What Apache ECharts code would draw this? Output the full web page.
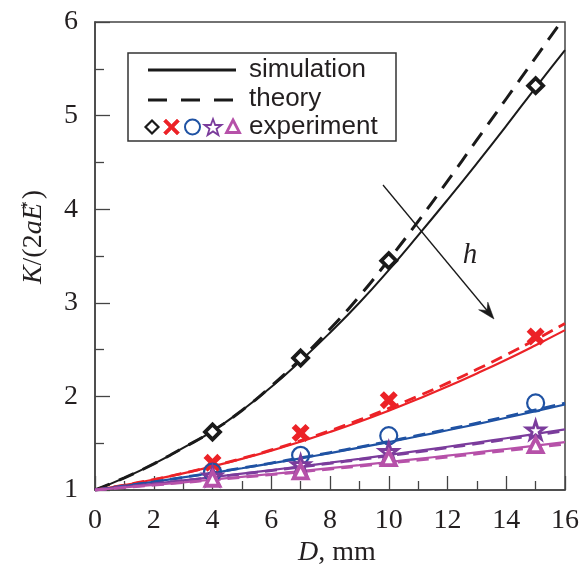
<!DOCTYPE html>
<html>
<head>
<meta charset="utf-8">
<script src="https://cdn.jsdelivr.net/npm/echarts@6/dist/echarts.min.js"></script>
<style>
html,body{margin:0;padding:0;background:#fff;}
#chart{width:582px;height:569px;}
</style>
</head>
<body>
<div id="chart"></div>
<script>
// ---- data ----
var D_CURVE = [0,1,2,3,4,5,6,7,8,9,10,11,12,13,14,15,16];
var blackSim    = [1.00,1.13,1.28,1.45,1.63,1.85,2.10,2.38,2.68,3.00,3.35,3.72,4.10,4.49,4.89,5.30,5.70];
var blackTheory = [1.00,1.13,1.28,1.45,1.63,1.85,2.11,2.40,2.72,3.07,3.46,3.87,4.30,4.74,5.18,5.62,6.06];
var redSim      = [1.000,1.052,1.112,1.178,1.252,1.333,1.421,1.517,1.620,1.730,1.848,1.973,2.105,2.245,2.392,2.547,2.708];
var redTheory   = [1.000,1.052,1.112,1.179,1.254,1.337,1.428,1.527,1.634,1.749,1.872,2.003,2.142,2.289,2.444,2.607,2.778];
var blueSim     = [1.000,1.043,1.088,1.134,1.182,1.232,1.284,1.338,1.394,1.452,1.512,1.574,1.638,1.704,1.772,1.842,1.914];
var blueTheory  = [1.000,1.043,1.088,1.135,1.184,1.235,1.288,1.343,1.400,1.459,1.520,1.583,1.648,1.715,1.784,1.855,1.928];
var purpleSim   = [1.000,1.033,1.067,1.102,1.138,1.175,1.213,1.252,1.292,1.333,1.375,1.418,1.462,1.507,1.553,1.600,1.648];
var purpleTheory= [1.000,1.033,1.066,1.100,1.135,1.171,1.208,1.246,1.285,1.325,1.366,1.408,1.451,1.495,1.540,1.586,1.633];
var pinkSim     = [1.000,1.027,1.054,1.082,1.111,1.141,1.171,1.202,1.234,1.266,1.299,1.333,1.367,1.402,1.438,1.474,1.511];
var pinkTheory  = [1.000,1.026,1.052,1.079,1.107,1.135,1.164,1.194,1.224,1.255,1.287,1.319,1.352,1.386,1.420,1.455,1.490];

var D_EXP = [4,7,10,15];
var expDiamond  = [1.62,2.41,3.45,5.32];
var expCross    = [1.29,1.61,1.96,2.64];
var expCircle   = [1.19,1.37,1.58,1.93];
var expStar     = [1.15,1.27,1.41,1.64];
var expTriangle = [1.12,1.20,1.34,1.48];

var X_TICKS = [0,2,4,6,8,10,12,14,16];
var Y_TICKS = [1,2,3,4,5,6];

// ---- styles ----
var C_BLACK = '#1a1a1a', C_RED = '#ec2227', C_BLUE = '#1f52a3', C_PURPLE = '#7b3c9c', C_PINK = '#b651a9';
var SERIF = 'Liberation Serif';
var SANS = 'Liberation Sans';
var TXT = '#231f20';

function pairs(xs, ys){ return xs.map(function(x,i){ return [x, ys[i]]; }); }

function lineSeries(data, color, width, dashed, dash){
  return {
    type:'line', data: pairs(D_CURVE, data), smooth: 0.5, symbol:'none', clip:true,
    lineStyle:{color:color, width:width, type: dashed ? dash : 'solid', cap:'butt'},
    silent:true, z:2
  };
}

var X_PATH = 'path://M0,2.3 L2.3,0 L5,2.7 L7.7,0 L10,2.3 L7.3,5 L10,7.7 L7.7,10 L5,7.3 L2.3,10 L0,7.7 L2.7,5 Z';
var STAR_PATH = 'path://M50,0 L61.8,35.3 L99,35.3 L69,57.1 L80.4,92.7 L50,70.8 L19.6,92.7 L31,57.1 L1,35.3 L38.2,35.3 Z';

function scatter(ys, symbol, size, fill, border, bw){
  return {
    type:'scatter', data: pairs(D_EXP, ys), symbol:symbol, symbolSize:size,
    itemStyle:{color:fill, borderColor:border, borderWidth:bw, opacity:1},
    silent:true, z:5
  };
}

var series = [
  lineSeries(blackSim, C_BLACK, 2, false),
  lineSeries(blackTheory, C_BLACK, 3, true, [16,10]),
  lineSeries(redSim, C_RED, 2.2, false),
  lineSeries(redTheory, C_RED, 2.8, true, [12,7]),
  lineSeries(blueSim, C_BLUE, 2.2, false),
  lineSeries(blueTheory, C_BLUE, 2.8, true, [12,7]),
  lineSeries(purpleSim, C_PURPLE, 2.2, false),
  lineSeries(purpleTheory, C_PURPLE, 2.8, true, [12,7]),
  lineSeries(pinkSim, C_PINK, 2.2, false),
  lineSeries(pinkTheory, C_PINK, 2.8, true, [12,7]),
  scatter(expDiamond, 'diamond', 15, '#fff', C_BLACK, 3.8),
  scatter(expCross, X_PATH, 18, C_RED, C_RED, 0),
  scatter(expCircle, 'circle', 17, 'rgba(0,0,0,0)', C_BLUE, 2.2),
  scatter(expStar, STAR_PATH, 18, '#fff', C_PURPLE, 2.8),
  scatter(expTriangle, 'triangle', 14, '#fff', C_PINK, 3.8)
];

function poly(points, fill, stroke, lw){
  return {type:'polygon', shape:{points:points}, style:{fill:fill, stroke:stroke, lineWidth:lw||0}, z:20};
}
var graphic = [
  {type:'rect', shape:{x:128, y:53, width:268, height:88}, style:{fill:'#fff', stroke:'#333', lineWidth:1.5}, z:15},
  {type:'line', shape:{x1:148, y1:70, x2:236, y2:70}, style:{stroke:C_BLACK, lineWidth:3}, z:20},
  {type:'line', shape:{x1:148, y1:100, x2:236, y2:100}, style:{stroke:C_BLACK, lineWidth:3, lineDash:[19,14]}, z:20},
  {type:'text', x:249, y:70, style:{text:'simulation', font:'26px "'+SANS+'"', fill:TXT, align:'left', verticalAlign:'middle'}, z:20},
  {type:'text', x:249, y:99, style:{text:'theory', font:'26px "'+SANS+'"', fill:TXT, align:'left', verticalAlign:'middle'}, z:20},
  {type:'text', x:249, y:127, style:{text:'experiment', font:'26px "'+SANS+'"', fill:TXT, align:'left', verticalAlign:'middle'}, z:20},
  // legend symbols
  poly([[152,120.5],[158.5,127],[152,133.5],[145.5,127]], '#fff', C_BLACK, 2.2),
  poly([[163.5,121.5],[166,119],[171.5,124.5],[177,119],[179.5,121.5],[174,127],[179.5,132.5],[177,135],[171.5,129.5],[166,135],[163.5,132.5],[169,127]], C_RED, C_RED, 0.5),
  {type:'circle', shape:{cx:192.5, cy:127, r:7.5}, style:{fill:'none', stroke:C_BLUE, lineWidth:2}, z:20},
  poly([[213,119],[215.2,125],[221.5,125],[216.5,128.8],[218.4,135],[213,131.4],[207.6,135],[209.5,128.8],[204.5,125],[210.8,125]], '#fff', C_PURPLE, 1.8),
  poly([[233,120],[239.5,132.5],[226.5,132.5]], '#fff', C_PINK, 2.8),
  // arrow
  {type:'line', shape:{x1:383, y1:185, x2:487.5, y2:311}, style:{stroke:C_BLACK, lineWidth:1.3}, z:20},
  poly([[494,319],[478.6,309.7],[487,310.5],[487.8,302.1]], C_BLACK, C_BLACK, 0.5),
  {type:'text', x:470, y:255, style:{text:'h', font:'italic 29px "'+SERIF+'"', fill:TXT, align:'center', verticalAlign:'middle'}, z:20},
  // axis names
  {type:'text', x:337, y:553, style:{text:'{i|D}{n|, mm}', rich:{i:{font:'italic 28px "'+SERIF+'"', fill:TXT}, n:{font:'28px "'+SERIF+'"', fill:TXT}}, align:'center', verticalAlign:'middle'}, z:20},
  {type:'text', x:34, y:237, rotation:Math.PI/2, style:{text:'{i|K}{n|/(2}{i|aE}{s|*}{n|)}', rich:{i:{font:'italic 28px "'+SERIF+'"', fill:TXT, verticalAlign:'bottom'}, n:{font:'28px "'+SERIF+'"', fill:TXT, verticalAlign:'bottom'}, s:{font:'16px "'+SERIF+'"', fill:TXT, verticalAlign:'top', padding:[0,2,0,-6]}}, align:'center', verticalAlign:'middle'}, z:20}
];

var chart = echarts.init(document.getElementById('chart'), null, {renderer:'canvas'});
chart.setOption({
  animation:false,
  backgroundColor:'#fff',
  grid:{left:95, right:17, top:22, bottom:79, show:true, borderColor:'#444', borderWidth:1.5, backgroundColor:'transparent'},
  xAxis:{
    type:'value', min:X_TICKS[0], max:X_TICKS[X_TICKS.length-1], interval:2,
    axisLine:{show:true, lineStyle:{color:'#444', width:1.5}},
    axisTick:{show:true, inside:true, length:14, lineStyle:{color:'#444', width:1.3}},
    minorTick:{show:true, splitNumber:2, length:9, lineStyle:{color:'#444', width:1.3}},
    splitLine:{show:false},
    axisLabel:{fontFamily:SERIF, fontSize:28, color:TXT, margin:17}
  },
  yAxis:{
    type:'value', min:Y_TICKS[0], max:Y_TICKS[Y_TICKS.length-1], interval:1,
    axisLine:{show:true, lineStyle:{color:'#444', width:1.5}},
    axisTick:{show:true, inside:true, length:15, lineStyle:{color:'#444', width:1.3}},
    minorTick:{show:true, splitNumber:2, length:9, lineStyle:{color:'#444', width:1.3}},
    splitLine:{show:false},
    axisLabel:{fontFamily:SERIF, fontSize:28, color:TXT, margin:17}
  },
  series: series,
  graphic: graphic
});
</script>
</body>
</html>
